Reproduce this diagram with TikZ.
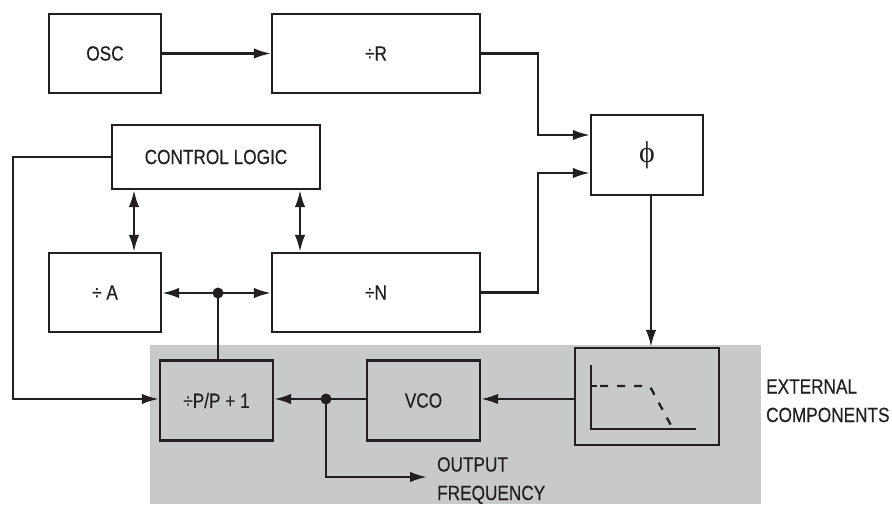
\documentclass[tikz,border=0pt]{standalone}
\usepackage{fontspec}
\setmainfont{Liberation Sans}[FakeStretch=0.84,FakeBold=0.4]
\newfontfamily\phifont{Liberation Serif}
\usetikzlibrary{arrows.meta,calc}
\definecolor{extgray}{HTML}{C8C9CB}
\definecolor{ink}{HTML}{231F20}
\begin{document}
\begin{tikzpicture}[x=1pt,y=-1pt,
  line width=2.3pt,
  blk/.style={draw=ink, line width=2.3pt, rectangle, inner sep=0pt, text=ink, font=\fontsize{20.5}{24}\selectfont},
  conn/.style={draw=ink, line width=2.3pt},
  arr/.style={conn, -{Latex[length=17pt,width=10.5pt]}},
  darr/.style={conn, {Latex[length=17pt,width=10.5pt]}-{Latex[length=17pt,width=10.5pt]}},
  jdot/.style={circle, fill=ink, inner sep=0pt, minimum size=11pt},
  lbl/.style={font=\fontsize{20.5}{28.5}\selectfont, text=ink, align=left, inner sep=0pt}
]
\useasboundingbox (0,0) rectangle (892,504);
% external components shading
\fill[extgray] (150,345) rectangle (761,504);

% blocks
\node[blk, minimum width=112pt, minimum height=79pt] (osc) at (105,53.5) {OSC};
\node[blk, minimum width=208pt, minimum height=79pt] (divR) at (376,53.5) {÷R};
\node[blk, minimum width=112pt, minimum height=80pt] (phi) at (647,155) {\phifont\fontsize{30}{32}\selectfont ϕ};
\node[blk, minimum width=208pt, minimum height=64pt] (ctrl) at (216,157) {CONTROL LOGIC};
\node[blk, minimum width=112pt, minimum height=79pt] (divA) at (105,292.5) {÷ A};
\node[blk, minimum width=208pt, minimum height=79pt] (divN) at (376,292.5) {÷N};
\node[blk, minimum width=113pt, minimum height=80pt] (divP) at (216.5,400.5) {÷P/P + 1};
\node[blk, minimum width=113pt, minimum height=80pt] (vco) at (423.5,400.5) {VCO};
\node[blk, minimum width=144pt, minimum height=97pt] (filt) at (647,396.5) {};

% filter graph
\draw[conn] (591,365) -- (591,429) -- (696,429);
\draw[conn] (591,386) -- (597,386);
\draw[conn, dash pattern=on 8pt off 9pt] (600,386) -- (644,386) .. controls (650,386) .. (654,394) -- (673,429);

% coordinates
\coordinate (jA) at (218,293);
\coordinate (jB) at (326,399);
\coordinate (rturn) at (538,53.5);
\coordinate (outEnd) at (427,477);
\coordinate (ctrlLeft) at (13,157);

% connectors
\draw[arr] (osc) -- (divR);
\draw[arr] (divR.east) -- (rturn) -- (rturn |- 0,135) -- (phi.west |- 0,135);
\draw[arr] (divN.east) -- (rturn |- divN.east) -- (rturn |- 0,173) -- (phi.west |- 0,173);
\draw[arr] (phi.south -| 651,0) -- (filt.north -| 651,0);
\draw[arr] (ctrl.west) -- (ctrlLeft) -- (ctrlLeft |- jB) -- (divP.west |- jB);
\draw[darr] ([xshift=-82pt]ctrl.south) -- ([xshift=-82pt]ctrl.south |- divA.north);
\draw[darr] ([xshift=84pt]ctrl.south) -- ([xshift=84pt]ctrl.south |- divN.north);
\draw[arr] (jA) -- (divA.east |- jA);
\draw[arr] (jA) -- (divN.west |- jA);
\draw[conn] (jA) -- (jA |- divP.north);
\draw[conn] (vco.west |- jB) -- (jB);
\draw[arr] (jB) -- (divP.east |- jB);
\draw[arr] (filt.west |- jB) -- (vco.east |- jB);
\draw[arr] (jB) -- (jB |- outEnd) -- (outEnd);
\node[jdot] at (jA) {};
\node[jdot] at (jB) {};

% labels (base anchor = baseline of the last line)
\node[lbl, anchor=base west] (outlbl) at (436,500) {OUTPUT\\FREQUENCY};
\node[lbl, anchor=base west] (extlbl) at (765,422) {EXTERNAL\\COMPONENTS};
\end{tikzpicture}
\end{document}
